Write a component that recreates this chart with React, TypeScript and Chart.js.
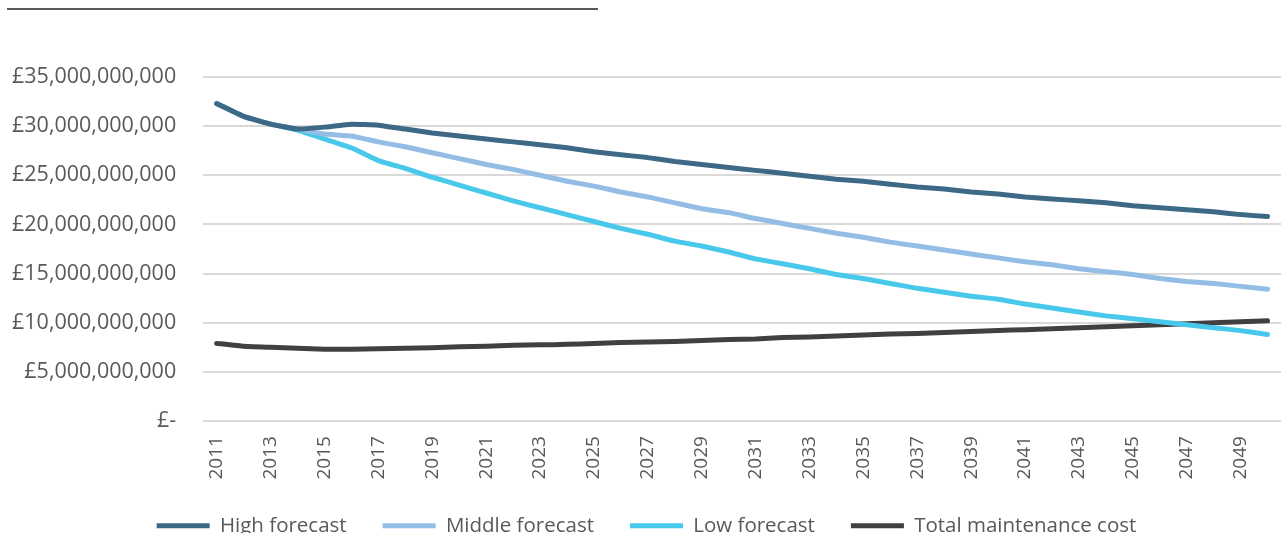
import React, { useEffect, useRef } from "react";
import { Chart, registerables } from "chart.js";

Chart.register(...registerables);

const years: string[] = [];
for (let y = 2011; y <= 2050; y++) years.push(String(y));

const highForecast = [
  32.3, 31.0, 30.2, 29.7, 29.9, 30.2, 30.1, 29.7, 29.3, 29.0,
  28.7, 28.4, 28.1, 27.8, 27.4, 27.1, 26.8, 26.4, 26.1, 25.8,
  25.5, 25.2, 24.9, 24.6, 24.4, 24.1, 23.8, 23.6, 23.3, 23.1,
  22.8, 22.6, 22.4, 22.2, 21.9, 21.7, 21.5, 21.3, 21.0, 20.8,
];
const middleForecast = [
  32.3, 31.0, 30.2, 29.7, 29.2, 29.0, 28.4, 27.9, 27.3, 26.7,
  26.1, 25.6, 25.0, 24.4, 23.9, 23.3, 22.8, 22.2, 21.6, 21.2,
  20.6, 20.1, 19.6, 19.1, 18.7, 18.2, 17.8, 17.4, 17.0, 16.6,
  16.2, 15.9, 15.5, 15.2, 14.9, 14.5, 14.2, 14.0, 13.7, 13.4,
];
const lowForecast = [
  32.3, 31.0, 30.2, 29.6, 28.7, 27.8, 26.5, 25.7, 24.8, 24.0,
  23.2, 22.4, 21.7, 21.0, 20.3, 19.6, 19.0, 18.3, 17.8, 17.2,
  16.5, 16.0, 15.5, 14.9, 14.5, 14.0, 13.5, 13.1, 12.7, 12.4,
  11.9, 11.5, 11.1, 10.7, 10.4, 10.1, 9.8, 9.5, 9.2, 8.8,
];
const totalMaintenance = [
  7.9, 7.6, 7.5, 7.4, 7.3, 7.3, 7.35, 7.4, 7.45, 7.55,
  7.6, 7.7, 7.75, 7.8, 7.9, 8.0, 8.05, 8.1, 8.2, 8.3,
  8.35, 8.5, 8.55, 8.65, 8.75, 8.85, 8.9, 9.0, 9.1, 9.2,
  9.3, 9.4, 9.5, 9.6, 9.7, 9.8, 9.9, 10.0, 10.1, 10.2,
];

const BN = 1e9;
const seriesNames = ["High forecast", "Middle forecast", "Low forecast", "Total maintenance cost"];
const seriesColors = ["#3D6886", "#93BDE5", "#48C8EB", "#404040"];
const seriesValues = [highForecast, middleForecast, lowForecast, totalMaintenance];

const TEXT = "#595959";
const FONT = "'Open Sans', sans-serif";

function fmt(v: number): string {
  if (v === 0) return "£-";
  return "£" + Math.round(v).toLocaleString("en-GB");
}

export default function App() {
  const ref = useRef<HTMLCanvasElement | null>(null);

  useEffect(() => {
    const canvas = ref.current;
    if (!canvas) return;
    const chart = new Chart(canvas, {
      type: "line",
      data: {
        labels: years,
        datasets: seriesNames.map((name, i) => ({
          label: name,
          data: seriesValues[i].map((v) => v * BN),
          borderColor: seriesColors[i],
          backgroundColor: seriesColors[i],
          borderWidth: 5,
          pointRadius: 0,
          pointHoverRadius: 0,
          pointStyle: "line",
          borderCapStyle: "round",
          borderJoinStyle: "round",
          tension: 0.1,
          fill: false,
        })),
      },
      options: {
        animation: false,
        responsive: false,
        maintainAspectRatio: false,
        layout: { padding: { top: 77, left: 12, right: 1, bottom: 0 } },
        plugins: {
          tooltip: { enabled: false },
          legend: {
            position: "bottom",
            labels: {
              usePointStyle: true,
              pointStyleWidth: 53,
              boxHeight: 5,
              color: TEXT,
              font: { family: FONT, size: 20.5 },
              padding: 36,
            },
          },
        },
        scales: {
          x: {
            offset: true,
            grid: {
              display: true,
              drawOnChartArea: false,
              drawTicks: true,
              tickLength: 15,
              color: "rgba(0,0,0,0)",
              tickColor: "rgba(0,0,0,0)",
            },
            border: { display: false },
            ticks: {
              autoSkip: false,
              maxRotation: 90,
              minRotation: 90,
              padding: 0,
              color: TEXT,
              font: { family: FONT, size: 19, lineHeight: 0.6 },
              callback: (_v: any, i: number) => (i % 2 === 0 ? years[i] : ""),
            },
          },
          y: {
            min: 0,
            max: 35 * BN,
            grid: {
              color: "#D9D9D9",
              lineWidth: 2,
              drawTicks: true,
              tickLength: 27,
              tickColor: "rgba(0,0,0,0)",
            },
            border: { display: false },
            ticks: {
              stepSize: 5 * BN,
              padding: 0,
              color: TEXT,
              font: { family: FONT, size: 21.5 },
              callback: (v: any) => fmt(Number(v)),
            },
          },
        },
      },
    });
    return () => chart.destroy();
  }, []);

  return (
    <div style={{ position: "fixed", left: 0, top: 0, width: 1282, height: 533, overflow: "hidden", background: "#fff" }}>
      <div style={{ position: "absolute", left: 7, top: 8, width: 591, height: 2, background: "#595959" }} />
      <canvas ref={ref} width={1282} height={546} style={{ position: "absolute", left: 0, top: 0 }} />
    </div>
  );
}
